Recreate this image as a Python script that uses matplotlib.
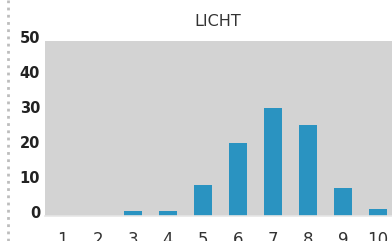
import numpy as np
import matplotlib.pyplot as plt
import matplotlib.transforms as mtransforms
from matplotlib.lines import Line2D

plt.rcParams['font.family'] = ['Liberation Sans Narrow', 'DejaVu Sans']

# Chart data
categories = [1, 2, 3, 4, 5, 6, 7, 8, 9, 10]
values = [0, 0, 1.5, 1.5, 9, 21, 31, 26, 8, 2]
yticks = [0, 10, 20, 30, 40, 50]
title = 'LICHT'

BAR_COLOR = '#2a93c1'
BG_COLOR = '#d3d3d3'

fig = plt.figure(figsize=(3.92, 2.41), dpi=100)
# axes runs past the right edge, the picture is cropped there
ax = fig.add_axes([45 / 392, (241 - 216) / 241, 1 - 45 / 392, 175 / 241])
ax.set_facecolor(BG_COLOR)

ax.bar(categories, values, width=0.51, color=BAR_COLOR, zorder=2)
ax.set_xlim(0.49, 10.4)
ax.set_ylim(0, 50)

for s in ['top', 'right', 'left']:
	ax.spines[s].set_visible(False)
ax.spines['bottom'].set_color('#e6e6e6')
ax.spines['bottom'].set_linewidth(1.2)

ax.set_xticks(categories)
ax.set_xticklabels([str(c) for c in categories], fontsize=12, color='#333333')
ax.set_yticks(yticks)
ax.set_yticklabels([str(t) for t in yticks], fontsize=10.5, color='#222222', fontweight='bold')
ax.tick_params(axis='both', length=0)
ax.tick_params(axis='x', pad=11)
ax.tick_params(axis='y', pad=3.5)
# y labels sit a little above their value
shift = mtransforms.ScaledTranslation(0, 4 / 100, fig.dpi_scale_trans)
for lbl in ax.get_yticklabels():
	lbl.set_transform(lbl.get_transform() + shift)

fig.text(218 / 392, 1 - 21 / 241, title, ha='center', va='center', fontsize=11.5, color='#333333')

# dotted separator on the left
fig.add_artist(Line2D([8 / 392, 8 / 392], [0, 1], transform=fig.transFigure,
	color='#bdbdbd', linestyle=(0, (1, 1.6)), linewidth=2.0))

fig.savefig('out.png', dpi=100)
